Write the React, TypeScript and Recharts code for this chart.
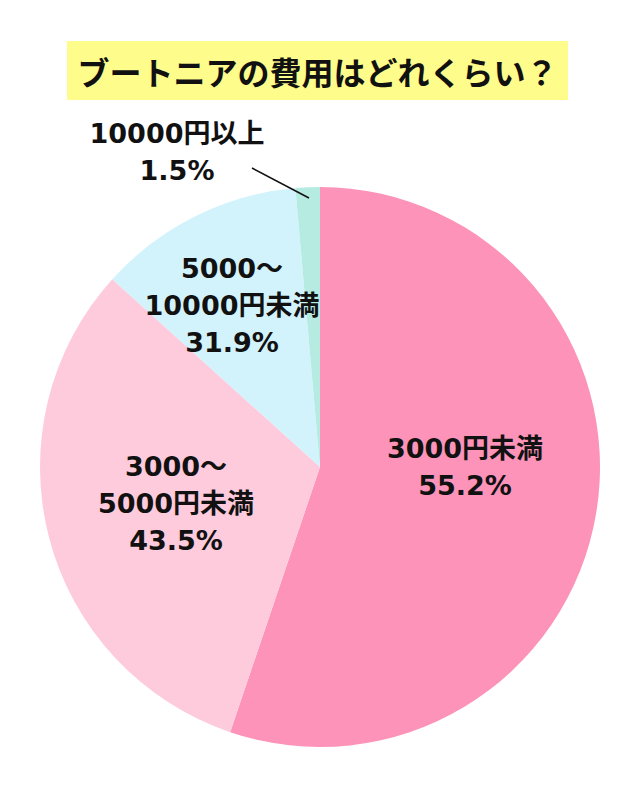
import { Cell, Pie, PieChart } from "recharts";

// slice sizes
const categories = ["3000円未満", "3000～5000円未満", "5000～10000円未満", "10000円以上"];
const shares = [55.2, 31.5, 11.9, 1.4];

// text printed on the chart
const labelLines = [
    ["3000円未満"],
    ["3000～", "5000円未満"],
    ["5000～", "10000円未満"],
    ["10000円以上"],
];
const labelPercents = ["55.2%", "43.5%", "31.9%", "1.5%"];

const COLORS = ["#fd93b9", "#fecbdd", "#d3f3fc", "#b5ebe1"];
// label block centre, relative to pie centre
const LABEL_OFFSETS = [
    [145, 0],
    [-144, 36],
    [-88, -162],
    [-143, -315],
];
const LINE_GAP = 37;

const data = categories.map((name, i) => ({ name, value: shares[i] }));

function renderLabel(props: any) {
    const { cx, cy, index } = props;
    const [dx, dy] = LABEL_OFFSETS[index];
    const lines = [...labelLines[index], labelPercents[index]];
    const top = cy + dy - ((lines.length - 1) * LINE_GAP) / 2;
    return (
        <g key={`lbl-${index}`}>
            {index === 3 && (
                <line x1={cx - 11} y1={cy - 269} x2={cx - 68} y2={cy - 299} stroke="#111" strokeWidth={1.5} />
            )}
            {lines.map((t, j) => (
                <text
                    key={j}
                    x={cx + dx}
                    y={top + j * LINE_GAP}
                    textAnchor="middle"
                    dominantBaseline="central"
                    fill="#111"
                    fontSize={27}
                    fontWeight="bold"
                    fontFamily="'DejaVu Sans', 'Noto Sans CJK JP', sans-serif"
                >
                    {t}
                </text>
            ))}
        </g>
    );
}

export default function App() {
    return (
        <div style={{ position: "absolute", left: 0, top: 0, width: 640, height: 800, background: "#fff" }}>
            <div
                style={{
                    position: "absolute",
                    left: 67,
                    top: 41,
                    width: 501,
                    height: 59,
                    background: "#fefc8a",
                    display: "flex",
                    alignItems: "center",
                    justifyContent: "center",
                    fontFamily: "'Noto Sans CJK JP', sans-serif",
                    fontWeight: "bold",
                    fontSize: 32,
                    color: "#111",
                    whiteSpace: "nowrap",
                }}
            >
                ブートニアの費用はどれくらい？
            </div>
            <PieChart
                width={640}
                height={800}
                margin={{ top: 0, right: 0, bottom: 0, left: 0 }}
                style={{ position: "absolute", left: 0, top: 0 }}
            >
                <Pie
                    data={data}
                    dataKey="value"
                    nameKey="name"
                    cx={320}
                    cy={467}
                    outerRadius={280}
                    startAngle={90}
                    endAngle={-270}
                    stroke="none"
                    labelLine={false}
                    label={renderLabel}
                    isAnimationActive={false}
                >
                    {data.map((d, i) => (
                        <Cell key={d.name} fill={COLORS[i]} />
                    ))}
                </Pie>
            </PieChart>
        </div>
    );
}
